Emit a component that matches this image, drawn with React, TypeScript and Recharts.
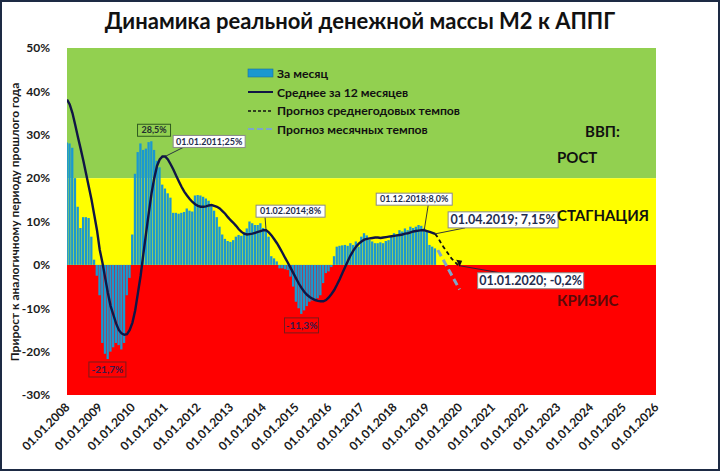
import React from "react"
import {
  ComposedChart,
  Bar,
  Line,
  XAxis,
  YAxis,
  ReferenceArea,
  ReferenceDot,
  Legend,
} from "recharts"

// x = месяц от 01.01.2008 (0 = 01.2008)
const tickMonths = [0, 12, 24, 36, 48, 60, 72, 84, 96, 108, 120, 132, 144, 156, 168, 180, 192, 204, 216]
const tickLabels = [
  "01.01.2008", "01.01.2009", "01.01.2010", "01.01.2011", "01.01.2012", "01.01.2013",
  "01.01.2014", "01.01.2015", "01.01.2016", "01.01.2017", "01.01.2018", "01.01.2019",
  "01.01.2020", "01.01.2021", "01.01.2022", "01.01.2023", "01.01.2024", "01.01.2025",
  "01.01.2026",
]
const yTicks = [-30, -20, -10, 0, 10, 20, 30, 40, 50]

// За месяц, 01.2008 - 04.2019
const zaMesyac = [
  28.2, 28.0, 27.0, 20.0, 13.4, 8.5, 11.0, 11.0, 10.8, 6.5, 1.2, -2.5,
  -7.0, -18.0, -20.5, -21.7, -20.0, -19.0, -18.0, -18.5, -19.5, -18.0, -7.0, -3.0,
  7.0, 21.0, 26.0, 28.0, 26.5, 26.8, 28.3, 28.5, 26.5, 24.0, 22.5, 18.5,
  17.6, 16.5, 15.5, 12.0, 12.0, 11.8, 12.0, 12.2, 13.0, 12.5, 12.3, 16.0,
  16.1, 16.0, 15.7, 15.3, 14.8, 13.5, 12.5, 11.0, 8.8, 7.0, 6.0, 5.5,
  5.3, 5.7, 6.5, 6.9, 6.7, 7.5, 8.4, 10.0, 9.6, 9.2, 9.2, 9.6,
  8.5, 8.0, 6.5, 2.0, 1.5, 0.8, -0.8, -0.8, -1.0, -1.2, -2.7, -5.0,
  -8.5, -10.0, -11.3, -10.5, -9.5, -8.5, -8.2, -8.0, -7.7, -7.0, -4.2, -1.9,
  -1.5, -0.5, 2.0, 4.2, 4.4, 4.5, 4.6, 4.4, 5.0, 4.6, 5.4, 4.2,
  6.5, 7.3, 6.8, 5.8, 5.4, 5.0, 5.0, 5.2, 5.0, 5.5, 5.7, 6.5,
  7.3, 7.0, 8.0, 7.7, 8.4, 8.0, 8.8, 8.5, 8.8, 9.2, 9.0, 8.4,
  7.7, 4.6, 4.2, 3.8,
]

// Среднее за 12 месяцев, 01.2008 - 04.2019
const srednee = [
  38.1, 37.0, 35.0, 32.3, 29.5, 26.8, 24.0, 21.0, 18.0, 15.0, 11.5, 8.0,
  3.5, 0.5, -3.0, -6.5, -9.5, -11.5, -13.5, -15.0, -15.8, -16.1, -16.0, -15.0,
  -13.3, -10.5, -6.5, -2.5, 2.5, 7.3, 12.0, 16.5, 20.0, 22.8, 24.3, 25.0,
  25.0, 24.3, 23.2, 22.0, 20.6, 19.3, 18.0, 16.9, 16.0, 15.2, 14.5, 14.0,
  13.6, 13.4, 13.4, 13.5, 13.7, 13.8, 13.6, 13.4, 13.0, 12.4, 11.8, 11.0,
  10.3, 9.7, 9.0, 8.2, 7.6, 7.2, 7.0, 7.1, 7.2, 7.4, 7.6, 7.8,
  8.0, 8.0, 7.5, 6.8, 5.9, 5.0, 3.9, 2.8, 1.6, 0.5, -0.7, -1.9,
  -3.1, -4.3, -5.3, -6.2, -6.9, -7.4, -7.8, -8.1, -8.3, -8.4, -8.4, -8.1,
  -7.5, -6.7, -5.8, -4.6, -3.3, -1.9, -0.5, 0.9, 2.2, 3.3, 4.2, 4.9,
  5.4, 5.8, 6.0, 6.1, 6.2, 6.3, 6.3, 6.2, 6.3, 6.4, 6.5, 6.6,
  6.7, 6.8, 6.9, 7.0, 7.2, 7.3, 7.5, 7.7, 7.8, 7.9, 8.0, 8.0,
  7.8, 7.6, 7.4, 7.15,
]

// Прогноз среднегодовых темпов, 04.2019 - 01.2020
const prognozSrStart = 135
const prognozSr = [7.15, 6.3, 5.2, 4.2, 3.3, 2.4, 1.5, 0.8, 0.2, -0.2]

// Прогноз месячных темпов: начало и конец
const prognozMesMonths = [136, 144]
const prognozMes = [3.4, -5.7]

const data = Array.from({ length: 217 }, (_, m) => {
  const fi = m - prognozSrStart
  const pi = prognozMesMonths.indexOf(m)
  return {
    m,
    mes: m < zaMesyac.length ? zaMesyac[m] : null,
    avg: m < srednee.length ? srednee[m] : null,
    fAvg: fi >= 0 && fi < prognozSr.length ? prognozSr[fi] : null,
    fMes: pi >= 0 ? prognozMes[pi] : null,
  }
})

const FONT = "Lato, 'Open Sans', sans-serif"
const NAVY = "#101545"
const BAR = "#1a98d0"
const FBLUE = "#7ea6c9"

const legendItems = [
  { name: "За месяц", kind: "bar" },
  { name: "Среднее за 12 месяцев", kind: "line" },
  { name: "Прогноз среднегодовых темпов", kind: "dash" },
  { name: "Прогноз месячных темпов", kind: "bdash" },
]

function LegendBox() {
  return (
    <div style={{ fontFamily: FONT, fontWeight: 700, fontSize: 12.2, color: "#111" }}>
      {legendItems.map((it) => (
        <div key={it.name} style={{ display: "flex", alignItems: "center", height: 18.7 }}>
          <svg width={27} height={12} style={{ marginRight: 3 }}>
            {it.kind === "bar" && <rect x={1} y={2} width={25} height={8} fill={BAR} stroke="#1a6f9a" strokeWidth={0.6} />}
            {it.kind === "line" && <line x1={1} y1={6} x2={26} y2={6} stroke={NAVY} strokeWidth={2} />}
            {it.kind === "dash" && <line x1={1} y1={6} x2={26} y2={6} stroke="#111" strokeWidth={1.6} strokeDasharray="3 2" />}
            {it.kind === "bdash" && <line x1={1} y1={6} x2={26} y2={6} stroke={FBLUE} strokeWidth={2.2} strokeDasharray="6 3" />}
          </svg>
          <span>{it.name}</span>
        </div>
      ))}
    </div>
  )
}

function XTick(props: any) {
  const { x, y, payload } = props
  const label = tickLabels[tickMonths.indexOf(payload.value)]
  return (
    <g transform={`translate(${x},${y})`}>
      <text
        x={0}
        y={0}
        dy={6}
        dx={-1}
        textAnchor="end"
        transform="rotate(-45)"
        fontFamily={FONT}
        fontWeight={700}
        fontSize={12}
        fill="#1a1a1a"
      >
        {label}
      </text>
    </g>
  )
}

type CalloutOpts = {
  text: string
  bx: number
  by: number
  w: number
  h: number
  lx?: number
  ly?: number
  fill?: string
  stroke?: string
  color?: string
  size?: number
}

function callout(o: CalloutOpts) {
  return (props: any) => {
    const { cx, cy } = props
    return (
      <g>
        {o.lx !== undefined && (
          <line x1={cx} y1={cy} x2={cx + o.lx} y2={cy + (o.ly ?? 0)} stroke="#1d2340" strokeWidth={0.9} />
        )}
        <rect
          x={cx + o.bx}
          y={cy + o.by}
          width={o.w}
          height={o.h}
          fill={o.fill ?? "#ffffff"}
          stroke={o.stroke ?? "#8a8a8a"}
          strokeWidth={1}
        />
        <text
          x={cx + o.bx + o.w / 2}
          y={cy + o.by + o.h / 2}
          dy="0.35em"
          textAnchor="middle"
          fontFamily={FONT}
          fontWeight={700}
          fontSize={o.size ?? 9}
          fill={o.color ?? "#1f2d50"}
        >
          {o.text}
        </text>
      </g>
    )
  }
}

function ArrowDot(props: any) {
  const { cx, cy, index } = props
  if (index !== prognozSrStart + prognozSr.length - 1 || cx == null) return <g key={index} />
  return (
    <path
      key={index}
      d={`M${cx - 3.5},${cy - 6} L${cx + 2.5},${cy - 5} L${cx},${cy + 1} Z`}
      fill="#111"
    />
  )
}

export default function App() {
  return (
    <div style={{ position: "absolute", left: 0, top: 0, width: 720, height: 471, background: "#fff" }}>
      <ComposedChart
        width={720}
        height={471}
        data={data}
        margin={{ top: 48, right: 64, bottom: 0, left: 0 }}
      >
        <ReferenceArea y1={20} y2={50} fill="#92d050" fillOpacity={1} strokeWidth={0} />
        <ReferenceArea y1={0} y2={20} fill="#ffff00" fillOpacity={1} strokeWidth={0} />
        <ReferenceArea y1={-30} y2={0} fill="#ff0000" fillOpacity={1} strokeWidth={0} />
        <XAxis
          dataKey="m"
          type="number"
          domain={[0, 216]}
          ticks={tickMonths}
          interval={0}
          height={76}
          axisLine={false}
          tickLine={false}
          tick={<XTick />}
          allowDataOverflow
        />
        <YAxis
          type="number"
          domain={[-30, 50]}
          ticks={yTicks}
          width={67}
          axisLine={false}
          tickLine={false}
          tickMargin={11}
          tickFormatter={(v) => `${v}%`}
          tick={{ fontFamily: FONT, fontWeight: 700, fontSize: 12, fill: "#1a1a1a" }}
        />
        <Bar dataKey="mes" fill={BAR} barSize={2.3} isAnimationActive={false} />
        <Line
          dataKey="avg"
          stroke={NAVY}
          strokeWidth={2.4}
          dot={false}
          isAnimationActive={false}
        />
        <Line
          dataKey="fAvg"
          stroke="#111"
          strokeWidth={1.8}
          strokeDasharray="4 3"
          dot={<ArrowDot />}
          isAnimationActive={false}
        />
        <Line
          dataKey="fMes"
          stroke={FBLUE}
          strokeWidth={3}
          strokeDasharray="7 4"
          dot={false}
          connectNulls
          isAnimationActive={false}
        />
        <ReferenceDot x={31} y={28.5} r={0} shape={callout({ text: "28,5%", bx: -14, by: -17, w: 33, h: 12, fill: "#92d050", stroke: "#2f5a1f", color: "#1f2d30" })} />
        <ReferenceDot x={36} y={25} r={0} shape={callout({ text: "01.01.2011;25%", bx: 8, by: -21, w: 72, h: 12, lx: 18, ly: -9 })} />
        <ReferenceDot x={73} y={8} r={0} shape={callout({ text: "01.02.2014;8%", bx: -10, by: -25, w: 69, h: 12, lx: -1, ly: -13 })} />
        <ReferenceDot x={15} y={-21.7} r={0} shape={callout({ text: "-21,7%", bx: -19, by: 3, w: 37, h: 15, fill: "#ff0000", stroke: "#7a1a1a", color: "#3a1a4a", size: 10 })} />
        <ReferenceDot x={86} y={-11.3} r={0} shape={callout({ text: "-11,3%", bx: -17, by: 4, w: 34, h: 15, fill: "#ff0000", stroke: "#7a1a1a", color: "#3a1a4a", size: 10 })} />
        <ReferenceDot x={131} y={8} r={0} shape={callout({ text: "01.12.2018;8,0%", bx: -48, by: -37, w: 76, h: 12, lx: 4, ly: -25 })} />
        <ReferenceDot x={135} y={7.15} r={0} shape={callout({ text: "01.04.2019; 7,15%", bx: 13, by: -22, w: 110, h: 16, lx: 30, ly: -6, size: 12.5 })} />
        <ReferenceDot x={144} y={-0.2} r={0} shape={callout({ text: "01.01.2020; -0,2%", bx: 18, by: 7, w: 106, h: 16, lx: 40, ly: 7, size: 12.5 })} />
        <Legend
          layout="horizontal"
          verticalAlign="middle"
          align="center"
          wrapperStyle={{ position: "absolute", left: 247, top: 64, width: 260 }}
          content={() => <LegendBox />}
        />
      </ComposedChart>
      <svg
        width={720}
        height={471}
        style={{ position: "absolute", left: 0, top: 0, pointerEvents: "none" }}
      >
        <text x={360} y={29} textAnchor="middle" fontFamily={FONT} fontWeight={700} fontSize={22} fill="#111">
          Динамика реальной денежной массы М2 к АППГ
        </text>
        <text
          x={15}
          y={222}
          transform="rotate(-90 15 222)"
          textAnchor="middle"
          dy="0.35em"
          fontFamily={FONT}
          fontWeight={700}
          fontSize={12}
          fill="#1a1a1a"
        >
          Прирост к аналогичному периоду прошлого года
        </text>
        <g fontFamily={FONT} fontWeight={700} fontSize={15} fill="#111">
          <text x={585} y={137}>ВВП:</text>
          <text x={557} y={163}>РОСТ</text>
          <text x={557} y={221}>СТАГНАЦИЯ</text>
          <text x={557} y={306} fill="#5a0a0a">КРИЗИС</text>
        </g>
        <rect x={1} y={1} width={718} height={469} fill="none" stroke="#1d2a44" strokeWidth={2} />
      </svg>
    </div>
  )
}
